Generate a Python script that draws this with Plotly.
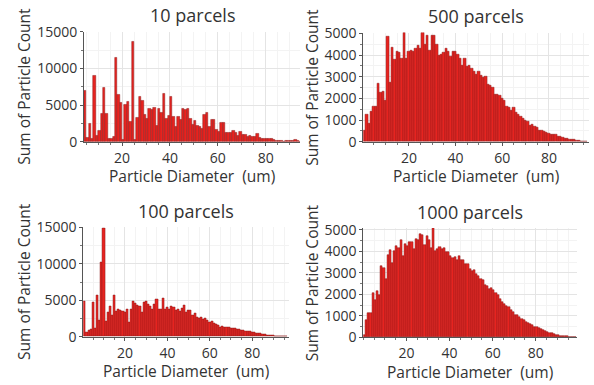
import plotly.graph_objects as go

W, H = 594, 385

# ---------------- data (Sum of Particle Count per 1-um diameter bin) ----------------
tl_title = "10 parcels"
tl_start = 4.5
tl_counts = [6900, 550, 2450, 450, 9000, 800, 1450, 3800, 7300, 3800, 450, 350, 700,
             11450, 6450, 5350, 300, 5100, 5450, 2700, 13600, 250, 3300, 6100, 5550,
             3700, 3100, 4450, 4350, 4700, 2200, 4550, 4000, 6550, 3100, 3550, 6200,
             3400, 2000, 3400, 2950, 4550, 4400, 4450, 3100, 2350, 2900, 2250, 2100,
             1750, 3650, 4000, 2050, 3000, 2950, 1600, 1350, 2550, 2550, 1250, 1200,
             1250, 1450, 1250, 800, 1300, 900, 1000, 700, 800, 750, 750, 1150, 550,
             400, 400, 400, 400, 350, 250, 200, 200, 100, 50, 100, 150, 200, 200, 250,
             120, 0]

tr_title = "500 parcels"
tr_start = 1.0
tr_counts = [500, 1260, 830, 1400, 1630, 1630, 2700, 2260, 2300, 1920, 4860, 2740,
             4340, 3800, 4180, 4100, 3850, 5050, 3850, 4150, 4230, 4180, 4280, 4460,
             4280, 5050, 4500, 4900, 4230, 4900, 4900, 4500, 4000, 4030, 4120, 4280,
             4150, 3920, 4150, 4150, 4030, 3850, 3500, 3850, 3460, 3540, 3380, 3260,
             3080, 3230, 3050, 2950, 3000, 2650, 2580, 2490, 2180, 2200, 2150, 2000,
             1890, 1630, 1570, 1460, 1570, 1350, 1260, 1150, 1080, 1000, 920, 770,
             800, 690, 650, 540, 520, 460, 430, 380, 350, 310, 310, 230, 220, 180,
             150, 140, 110, 90, 80, 60, 50, 30, 20, 15]

bl_title = "100 parcels"
bl_start = 1.0
bl_counts = [4900, 550, 900, 1000, 4650, 1200, 5650, 2200, 10270, 14900, 2050, 3300,
             4200, 3000, 5650, 3500, 3800, 3600, 3500, 3300, 3750, 2000, 3700, 4800,
             4600, 4300, 4200, 3300, 4700, 4900, 4400, 4200, 3700, 4500, 5100, 3700,
             3800, 5200, 3800, 4000, 3800, 4150, 4000, 3600, 3800, 3500, 3900, 4300,
             3300, 3600, 3600, 3000, 3200, 2600, 2500, 2700, 2400, 2500, 2300, 2000,
             2150, 1900, 1650, 1500, 1300, 1450, 1350, 1250, 1300, 1150, 1200, 1100,
             1050, 950, 900, 850, 800, 750, 700, 650, 600, 500, 450, 400, 350, 300,
             250, 220, 180, 150, 120, 100, 80, 60, 40, 20]

br_title = "1000 parcels"
br_start = 0.5
br_counts = [100, 800, 1150, 1150, 2050, 1750, 2150, 1950, 3300, 3250, 2700, 3850,
             4050, 3450, 4000, 4250, 4150, 4550, 3800, 4350, 4250, 4450, 4450, 4100,
             4600, 4550, 4800, 4750, 4300, 4700, 4550, 4150, 5100, 4000, 4100, 4200,
             4100, 4150, 3950, 3950, 3800, 3700, 3750, 3600, 3800, 3600, 3600, 3400,
             3400, 3200, 3100, 3150, 2950, 2850, 2700, 2650, 2450, 2400, 2250, 2300,
             2200, 2050, 1950, 1800, 1650, 1550, 1450, 1400, 1250, 1200, 1050, 1050,
             950, 850, 800, 700, 650, 600, 550, 500, 470, 420, 370, 320, 280, 250,
             220, 180, 150, 130, 100, 80, 65, 50, 40, 30, 20, 12, 6]

x_tickvals = [20, 40, 60, 80]
x_title = "Particle Diameter  (um)"
y_title = "Sum of Particle Count"

# ---------------- layout geometry (pixels) ----------------
panels = [
    (tl_title, tl_start, tl_counts, (84, 300), (31.7, 141.7), [4.1, 94.3], [0, 15000], 5000, 2500, 1),
    (tr_title, tr_start, tr_counts, (363.3, 589), (32.5, 141.7), [0.45, 97.2], [0, 5040], 1000, 500, 2),
    (bl_title, bl_start, bl_counts, (83.3, 289.3), (227.3, 336.7), [0.35, 97.5], [0, 15000], 5000, 2500, 3),
    (br_title, br_start, br_counts, (363.3, 576.7), (228.0, 337.3), [0.0, 99.0], [0, 5090], 1000, 500, 4),
]

FONT = "Open Sans"
TXT = "#333333"

fig = go.Figure()
annotations = []
layout = {}

for title, start, counts, (x0, x1), (yt, yb), xr, yr, ydt, ymin, idx in panels:
    xs = [start + i for i in range(len(counts))]
    sfx = "" if idx == 1 else str(idx)
    fig.add_trace(go.Bar(
        x=xs, y=counts, width=1.0,
        marker=dict(color="#e8231f", line=dict(color="#8b1c1c", width=0.5)),
        xaxis="x" + sfx, yaxis="y" + sfx, showlegend=False,
    ))
    layout["xaxis" + sfx] = dict(
        domain=[x0 / W, x1 / W], anchor="y" + sfx, range=xr, automargin=False,
        tickvals=x_tickvals, ticks="outside", ticklen=3, tickcolor="#555",
        showline=True, linecolor="#555", linewidth=1,
        showgrid=True, gridcolor="#e4e4e4", gridwidth=1, zeroline=False,
        minor=dict(dtick=5, tick0=0, showgrid=True, gridcolor="#f3f3f3", ticks="outside", ticklen=2, tickcolor="#777"),
        tickfont=dict(family=FONT, size=14, color=TXT),
    )
    layout["yaxis" + sfx] = dict(
        domain=[1 - yb / H, 1 - yt / H], anchor="x" + sfx, range=yr, automargin=False,
        dtick=ydt, tickformat="d", ticks="outside", ticklen=3, tickcolor="#555",
        showline=True, linecolor="#555", linewidth=1,
        showgrid=True, gridcolor="#e4e4e4", gridwidth=1, zeroline=False,
        minor=dict(dtick=ymin, showgrid=True, gridcolor="#f3f3f3", ticks="outside", ticklen=2, tickcolor="#777"),
        tickfont=dict(family=FONT, size=14, color=TXT),
    )
    cx = (x0 + x1) / 2
    cy = (yt + yb) / 2
    annotations.append(dict(text=title, x=cx / W, y=1 - (yt - 16.5) / H, xref="paper", yref="paper",
                            showarrow=False, xanchor="center", yanchor="middle",
                            font=dict(family=FONT, size=18, color=TXT)))
    annotations.append(dict(text=x_title, x=cx / W, y=1 - (yb + 34.5) / H, xref="paper", yref="paper",
                            showarrow=False, xanchor="center", yanchor="middle",
                            font=dict(family=FONT, size=15.5, color=TXT)))
    ytx = 24 if x0 < 200 else 311.7
    annotations.append(dict(text=y_title, x=ytx / W, y=1 - cy / H, xref="paper", yref="paper",
                            showarrow=False, xanchor="center", yanchor="middle", textangle=-90,
                            font=dict(family=FONT, size=15.5, color=TXT)))

fig.update_layout(
    width=W, height=H, margin=dict(l=0, r=0, t=0, b=0, autoexpand=False),
    paper_bgcolor="white", plot_bgcolor="white",
    bargap=0, annotations=annotations, **layout,
)

fig.write_html("out.html")
